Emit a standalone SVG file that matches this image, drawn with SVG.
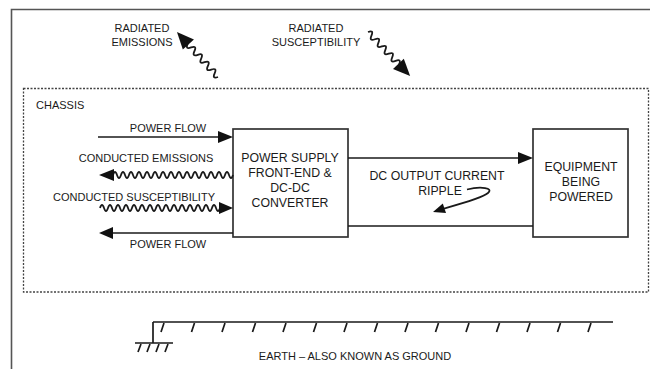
<svg xmlns="http://www.w3.org/2000/svg" width="650" height="369" viewBox="0 0 650 369">
<defs>
<style>
text{font-family:"Liberation Sans",Arial,sans-serif;font-size:11px;fill:#1a1a1a}
.c{text-anchor:middle}
.b{font-size:12.3px}
.ln{fill:none;stroke:#1a1a1a;stroke-width:1.7}
.wv{fill:none;stroke:#1a1a1a;stroke-width:1.8}
.hd{fill:#111;stroke:none}
.box{fill:#fff;stroke:#333;stroke-width:1.7}
</style>
</defs>
<rect width="650" height="369" fill="#fff"/>
<path d="M11.5,369 V9.5 H650" fill="none" stroke="#555" stroke-width="1.6"/>
<rect id="chassis" x="23.5" y="88.5" width="625" height="203.5" fill="none" stroke="#444" stroke-width="1.3" stroke-dasharray="2 1.5"/>
<text x="36" y="109">CHASSIS</text>

<g id="radiated-emissions-label">
<text class="c" x="142" y="32">RADIATED</text>
<text class="c" x="142" y="46">EMISSIONS</text>
</g>
<g id="radiated-susceptibility-label">
<text class="c" x="316" y="32">RADIATED</text>
<text class="c" x="316" y="46">SUSCEPTIBILITY</text>
</g>

<g id="power-supply">
<rect class="box" x="233" y="129" width="115" height="108"/>
<text class="c b" x="290" y="162">POWER SUPPLY</text>
<text class="c b" x="290" y="177">FRONT-END &amp;</text>
<text class="c b" x="290" y="192">DC-DC</text>
<text class="c b" x="290" y="207">CONVERTER</text>
</g>
<g id="equipment">
<rect class="box" x="533" y="129" width="95" height="108"/>
<text class="c b" x="581" y="171">EQUIPMENT</text>
<text class="c b" x="581" y="186">BEING</text>
<text class="c b" x="581" y="201">POWERED</text>
</g>

<g id="connectors">
<g transform="translate(218,77) rotate(-132.3)">
<path class="wv" d="M0,0 q2.5,-6 5,0 t5,0 t5,0 t5,0 t5,0 t5,0 t5,0 t5,0 t5,0"/>
<polygon class="hd" points="61,0 44,-7.5 44,7.5"/>
</g>
<g transform="translate(368,32) rotate(46.3)">
<path class="wv" d="M0,0 q2.5,-6 5,0 t5,0 t5,0 t5,0 t5,0 t5,0 t5,0 t5,0 t5,0"/>
<polygon class="hd" points="61,0 44,-7.5 44,7.5"/>
</g>

<line class="ln" x1="98" y1="137" x2="220" y2="137"/>
<polygon class="hd" points="233,137 218,131 218,143"/>
<text class="c" x="168" y="132">POWER FLOW</text>

<path class="wv" d="M233,175 q-2,6 -4,0 t-4,0 t-4,0 t-4,0 t-4,0 t-4,0 t-4,0 t-4,0 t-4,0 t-4,0 t-4,0 t-4,0 t-4,0 t-4,0 t-4,0 t-4,0 t-4,0 t-4,0 t-4,0 t-4,0 t-4,0 t-4,0 t-4,0 t-4,0 t-4,0 t-4,0 t-4,0 t-4,0 t-4,0 t-4,0"/>
<polygon class="hd" points="99,175 114,169 114,181"/>
<text class="c" x="146" y="162">CONDUCTED EMISSIONS</text>

<path class="wv" d="M100,208 q2,-6 4,0 t4,0 t4,0 t4,0 t4,0 t4,0 t4,0 t4,0 t4,0 t4,0 t4,0 t4,0 t4,0 t4,0 t4,0 t4,0 t4,0 t4,0 t4,0 t4,0 t4,0 t4,0 t4,0 t4,0 t4,0 t4,0 t4,0 t4,0 t4,0 t4,0"/>
<polygon class="hd" points="233,208 219,202 219,214"/>
<text class="c" x="134" y="201">CONDUCTED SUSCEPTIBILITY</text>

<line class="ln" x1="233" y1="233" x2="110" y2="233"/>
<polygon class="hd" points="99,233 113,227 113,239"/>
<text class="c" x="168" y="248">POWER FLOW</text>

<line class="ln" x1="348" y1="158" x2="520" y2="158"/>
<polygon class="hd" points="533,158 518,152 518,164"/>
<line class="ln" x1="348" y1="226" x2="533" y2="226"/>
<text class="c b" x="437" y="179.5">DC OUTPUT CURRENT</text>
<text class="c b" x="440" y="194.5">RIPPLE</text>
<path class="ln" d="M467,189.5 C481,186 494,188 488,193 C482,198 460,204 444,208.5"/>
<polygon class="hd" points="433,212 446,212.9 442.8,203.5"/>
</g>

<g id="earth">
<path class="ln" d="M153,322 H613 M153,322 V343 M135,343 H173"/>
<path class="ln" d="M141,344 L138,352 M150,344 L147,352 M159,344 L156,352 M168,344 L165,352"/>
<path class="ln" d="M164,323 l-3,9 M194.5,323 l-3,9 M225,323 l-3,9 M255.5,323 l-3,9 M286,323 l-3,9 M316.5,323 l-3,9 M347,323 l-3,9 M377.5,323 l-3,9 M408,323 l-3,9 M438.5,323 l-3,9 M469,323 l-3,9 M499.5,323 l-3,9 M530,323 l-3,9 M560.5,323 l-3,9 M591,323 l-3,9"/>
<text class="c" x="355" y="360">EARTH – ALSO KNOWN AS GROUND</text>
</g>
</svg>
